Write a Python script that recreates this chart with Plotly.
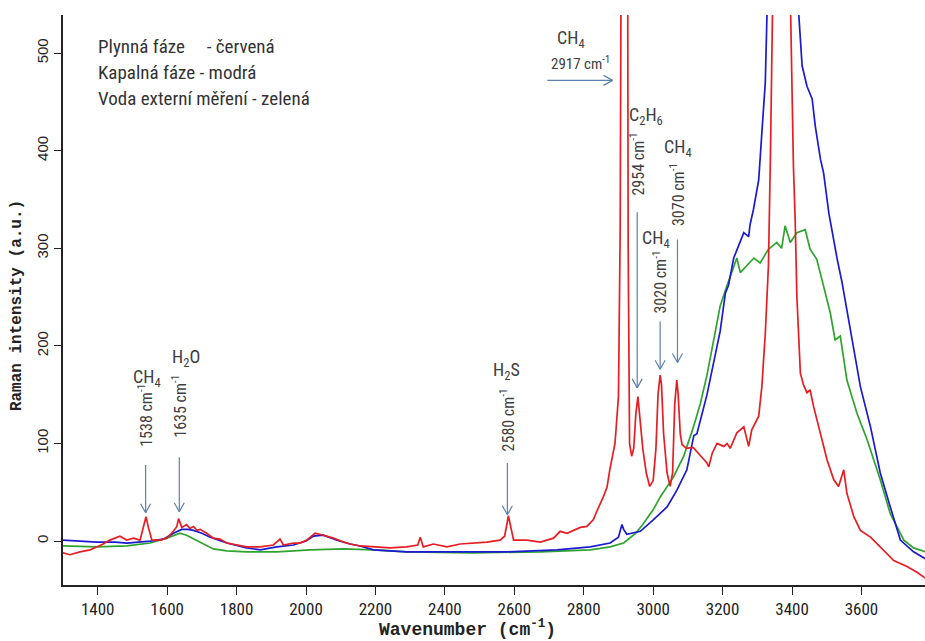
import plotly.graph_objects as go

# ---- Raman spectra: wavenumber (cm-1) vs intensity (a.u.) ----
# Gas phase (red)
gas_x = [1300, 1320, 1349, 1378, 1397, 1416, 1435, 1450, 1464, 1484, 1503, 1522, 1531, 1539, 1546,
         1556, 1580, 1599, 1618, 1628, 1633, 1642, 1656, 1665, 1676, 1686, 1695, 1714, 1733, 1752,
         1772, 1801, 1829, 1868, 1906, 1925, 1935, 1964, 1983, 2002, 2026, 2050, 2079, 2108, 2127,
         2156, 2194, 2242, 2290, 2322, 2329, 2338, 2367, 2406, 2444, 2482, 2521, 2559, 2572, 2579,
         2583, 2590, 2598, 2636, 2675, 2713, 2732, 2752, 2771, 2790, 2809, 2818, 2828, 2837, 2848,
         2856, 2867, 2875, 2890, 2900, 2905, 2909, 2917, 2926, 2928, 2932, 2938, 2944, 2950, 2956,
         2962, 2970, 2980, 2990, 3000, 3008, 3014, 3020, 3024, 3030, 3040, 3049, 3056, 3062, 3068,
         3072, 3078, 3083, 3096, 3115, 3135, 3155, 3160, 3170, 3184, 3203, 3213, 3222, 3241, 3261,
         3275, 3284, 3304, 3313, 3323, 3332, 3338, 3342, 3370, 3395, 3404, 3409, 3414, 3424, 3433,
         3443, 3452, 3462, 3482, 3501, 3520, 3534, 3549, 3558, 3578, 3597, 3626, 3654, 3693, 3731,
         3760, 3784]
gas_y = [-12, -14, -11, -9, -6, -3, 1, 3, 5, 1, 3, 1, 15, 25, 14,
         1, 1, 3, 10, 15, 23, 14, 17, 13, 15, 11, 12, 8, 3, 2,
         -2, -4, -6, -6, -4, 2, -4, -2, -2, 1, 8, 6, 3, -1, -3,
         -5, -6, -7, -6, -4, 4, -6, -3, -6, -3, -2, -1, 1, 5, 18,
         26, 14, 1, 1, -1, 3, 10, 8, 11, 14, 15, 18, 22, 30, 38,
         45, 55, 73, 100, 148, 320, 700, 1600, 700, 300, 100, 87, 95, 130, 148,
         125, 95, 70, 56, 62, 95, 150, 170, 160, 110, 70, 56, 70, 140, 165,
         150, 110, 99, 95, 96, 88, 80, 76, 90, 100, 97, 100, 95, 111, 117,
         97, 114, 128, 158, 213, 282, 400, 560, 1200, 560, 384, 330, 250, 172, 160,
         152, 155, 138, 111, 83, 63, 56, 73, 49, 25, 11, 4, -6, -20, -26,
         -32, -38]

# Liquid phase (blue)
liq_x = [1300, 1350, 1397, 1450, 1484, 1551, 1589, 1618, 1642, 1660, 1676, 1700, 1724, 1772, 1829,
         1868, 1916, 1964, 2000, 2021, 2050, 2089, 2127, 2156, 2194, 2290, 2434, 2579, 2723, 2819,
         2876, 2900, 2910, 2915, 2924, 2963, 3001, 3040, 3068, 3078, 3097, 3117, 3126, 3155, 3174,
         3193, 3208, 3217, 3232, 3251, 3261, 3275, 3279, 3289, 3304, 3313, 3323, 3328, 3360, 3390,
         3419, 3429, 3443, 3458, 3467, 3482, 3491, 3506, 3520, 3530, 3544, 3558, 3578, 3597, 3626,
         3654, 3683, 3712, 3750, 3784]
liq_y = [1, 0, -1, -1, -2, 0, 2, 8, 12, 12, 11, 8, 4, -2, -7,
         -9, -6, -4, 0, 5, 6, 1, -3, -5, -9, -11, -11, -11, -9, -6,
         -2, 4, 17, 12, 7, 10, 22, 35, 52, 59, 73, 108, 110, 150, 182,
         215, 254, 262, 290, 306, 316, 312, 324, 340, 370, 418, 470, 542, 900, 1000,
         542, 487, 466, 453, 425, 391, 377, 336, 308, 289, 265, 237, 196, 158, 117,
         70, 35, 1, -11, -18]

# Water, external measurement (green)
water_x = [1300, 1397, 1484, 1551, 1599, 1637, 1656, 1695, 1733, 1772, 1829, 1916, 2012, 2108, 2194,
           2290, 2482, 2675, 2819, 2876, 2915, 2950, 2972, 3000, 3020, 3059, 3088, 3116, 3136, 3155,
           3174, 3193, 3212, 3232, 3241, 3251, 3270, 3290, 3308, 3332, 3356, 3370, 3380, 3395, 3414,
           3438, 3452, 3471, 3491, 3510, 3524, 3539, 3558, 3587, 3616, 3654, 3683, 3722, 3750, 3784]
water_y = [-5, -6, -5, -2, 3, 8, 6, -1, -8, -10, -11, -11, -9, -8, -9,
           -11, -12, -11, -9, -6, -2, 8, 18, 32, 45, 66, 87, 117, 141, 170,
           205, 241, 261, 282, 290, 275, 282, 290, 285, 299, 306, 300, 323, 306, 316,
           319, 299, 289, 261, 234, 206, 210, 165, 131, 104, 63, 28, 1, -7, -11]

# Assigned bands
band_wn = [1538, 1635, 2580, 2954, 3020, 3070]
band_species = ["CH<sub>4</sub>", "H<sub>2</sub>O", "H<sub>2</sub>S",
                "C<sub>2</sub>H<sub>6</sub>", "CH<sub>4</sub>", "CH<sub>4</sub>"]
main_wn = 2917
main_species = "CH<sub>4</sub>"

x_ticks = [1400, 1600, 1800, 2000, 2200, 2400, 2600, 2800, 3000, 3200, 3400, 3600]
y_ticks = [0, 100, 200, 300, 400, 500]

legend_lines = ["Plynná fáze\u00a0\u00a0\u00a0\u00a0 - červená",
                "Kapalná fáze - modrá",
                "Voda externí měření - zelená"]

# ---- styling / placement ----
RED, BLUE, GREEN = "#e61e23", "#1a1ad0", "#2ea32e"
ARROW = "#5b80ab"
LABEL = "#404040"
NARROW = "Liberation Sans Narrow, Arial Narrow, Roboto Condensed, Liberation Sans, Arial"
MONO = "Liberation Mono, Courier New, DejaVu Sans Mono, monospace"

# per band: arrow tail/tip (intensity), rotated text centre, species centre, species x-shift (px)
band_layout = [
    dict(tail=78, tip=29, text_y=129, spec_y=167, spec_dx=1),
    dict(tail=86, tip=30, text_y=138, spec_y=188, spec_dx=7),
    dict(tail=80, tip=27, text_y=124, spec_y=174, spec_dx=-1),
    dict(tail=337, tip=157, text_y=386, spec_y=436, spec_dx=9),
    dict(tail=225, tip=176, text_y=265, spec_y=309, spec_dx=-4),
    dict(tail=309, tip=183, text_y=355, spec_y=403, spec_dx=1),
]

fig = go.Figure()
for xs, ys, col in [(water_x, water_y, GREEN), (liq_x, liq_y, BLUE), (gas_x, gas_y, RED)]:
    fig.add_trace(go.Scatter(x=xs, y=ys, mode="lines",
                             line=dict(color=col, width=1.7), hoverinfo="skip",
                             showlegend=False))

shapes = []
annotations = []


def head(xa, ya, pts):
    for dx, dy in pts:
        shapes.append(dict(type="line", xref="x", yref="y", xsizemode="pixel",
                           ysizemode="pixel", xanchor=xa, yanchor=ya,
                           x0=0, y0=0, x1=dx, y1=dy,
                           line=dict(color=ARROW, width=1.2)))


for wn, sp, lay in zip(band_wn, band_species, band_layout):
    shapes.append(dict(type="line", xref="x", yref="y", x0=wn, x1=wn,
                       y0=lay["tail"], y1=lay["tip"],
                       line=dict(color=ARROW, width=1.2)))
    head(wn, lay["tip"], [(-5, 9), (5, 9)])
    annotations.append(dict(x=wn, y=lay["text_y"], xref="x", yref="y",
                            text=f"{wn} cm<sup>-1</sup>", textangle=-90,
                            showarrow=False, font=dict(family=NARROW, size=16, color=LABEL)))
    annotations.append(dict(x=wn, y=lay["spec_y"], xref="x", yref="y", xshift=lay["spec_dx"],
                            text=sp, showarrow=False,
                            font=dict(family=NARROW, size=18, color=LABEL)))

# main CH4 band, horizontal arrow from the left
main_arrow_y = 472
main_arrow_x0, main_arrow_x1 = 2695, 2883
shapes.append(dict(type="line", xref="x", yref="y", x0=main_arrow_x0, x1=main_arrow_x1,
                   y0=main_arrow_y, y1=main_arrow_y, line=dict(color=ARROW, width=1.2)))
head(main_arrow_x1, main_arrow_y, [(-9, 5), (-9, -5)])
annotations.append(dict(x=2762, y=514, xref="x", yref="y", text=main_species, showarrow=False,
                        font=dict(family=NARROW, size=18, color=LABEL)))
annotations.append(dict(x=2790, y=490, xref="x", yref="y", text=f"{main_wn} cm<sup>-1</sup>",
                        showarrow=False, font=dict(family=NARROW, size=15, color=LABEL)))

# colour key text
for i, line in enumerate(legend_lines):
    annotations.append(dict(x=0.038, y=0.944 - i * 0.045, xref="paper", yref="paper",
                            xanchor="left", yanchor="middle", text=line, showarrow=False,
                            font=dict(family=NARROW, size=19, color="#333333")))

# axis titles
annotations.append(dict(x=0.4687, y=-0.077, xref="paper", yref="paper",
                        xanchor="center", yanchor="middle",
                        text="<b>Wavenumber (cm<sup>-1</sup>)</b>", showarrow=False,
                        font=dict(family=MONO, size=18, color="#222222")))
annotations.append(dict(x=-0.0534, y=0.491, xref="paper", yref="paper", textangle=-90,
                        xanchor="center", yanchor="middle",
                        text="<b>Raman intensity (a.u.)</b>", showarrow=False,
                        font=dict(family=MONO, size=16, color="#222222")))

fig.update_layout(
    width=925, height=641,
    margin=dict(l=63, r=0, t=15, b=56),
    paper_bgcolor="white", plot_bgcolor="white",
    shapes=shapes, annotations=annotations,
    xaxis=dict(range=[1300, 3783], tickvals=x_ticks, ticks="outside", ticklen=8,
               tickwidth=1.3, tickcolor="#222", showline=True, linecolor="#222",
               linewidth=1.5, showgrid=False, zeroline=False,
               tickfont=dict(family=NARROW, size=17, color="#222")),
    yaxis=dict(range=[-45, 539], tickvals=y_ticks, ticks="outside", ticklen=7,
               tickwidth=1.3, tickcolor="#222", showline=True, linecolor="#222",
               linewidth=1.5, showgrid=False, zeroline=False, tickangle=-90,
               tickfont=dict(family="Liberation Sans, Arial", size=15, color="#222")),
)

fig.write_html("out.html")
